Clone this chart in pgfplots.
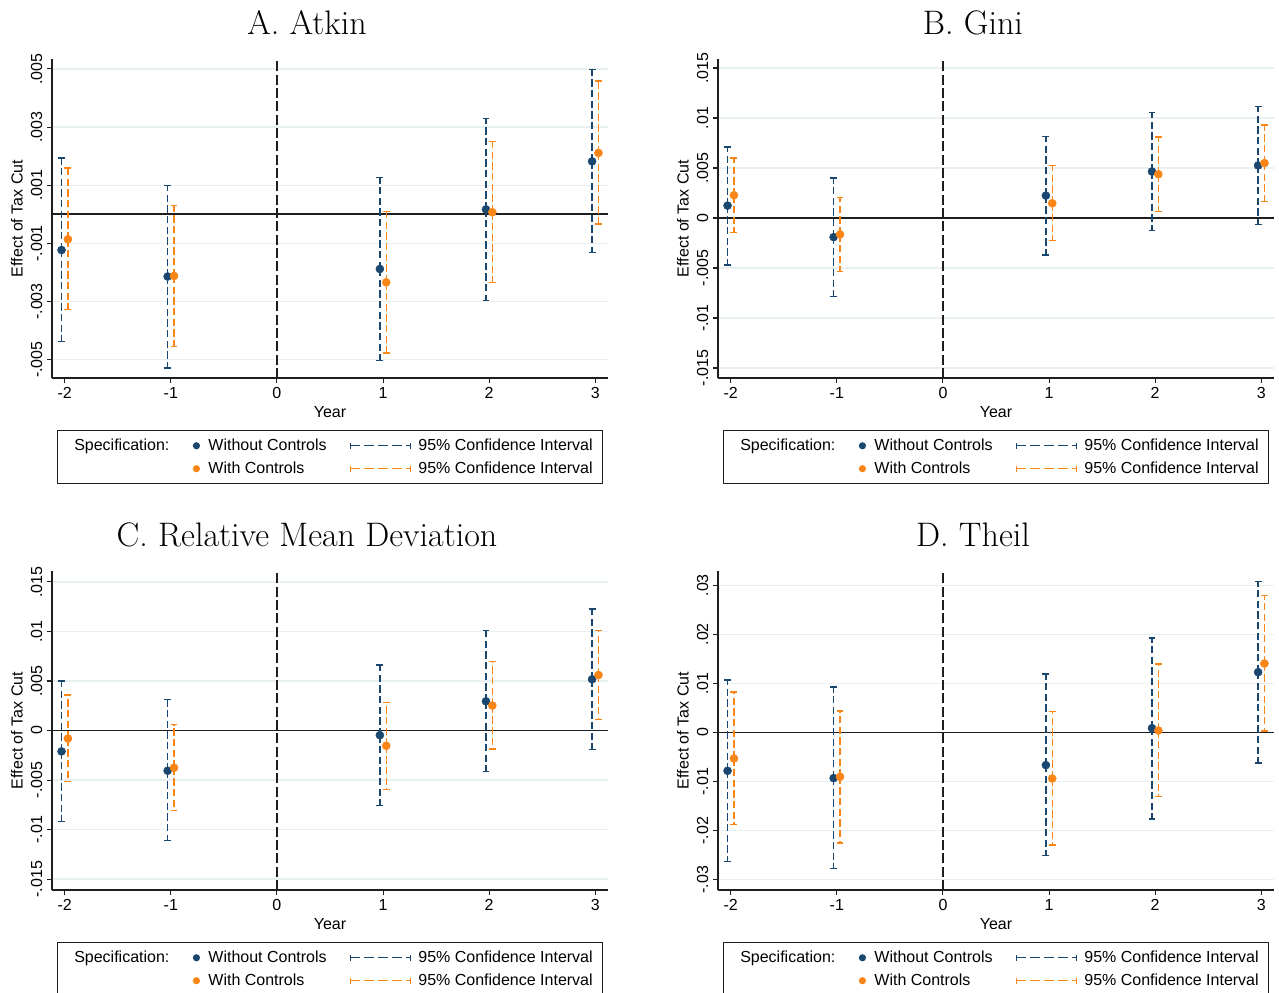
\documentclass[border=0pt]{standalone}
\usepackage{pgfplots}
\pgfplotsset{compat=1.18}
\usepackage{pgfplotstable}
\usepackage{fontspec}
\newfontfamily\arial{Liberation Sans}
\definecolor{stNavy}{HTML}{1A476F}
\definecolor{stOrange}{HTML}{FA8517}
\definecolor{stGrid}{HTML}{E8F0F2}
\definecolor{stAxis}{HTML}{1E1E1E}

% x is the year shifted by -0.03 (without controls) or +0.03 (with controls)
\pgfplotstableread{
x y lo hi
-2.03 -0.00123 -0.00437 0.00193
-1.03 -0.00214 -0.00529 0.00100
0.97 -0.00188 -0.00502 0.00127
1.97 0.00017 -0.00297 0.00330
2.97 0.00182 -0.00131 0.00498
}\atkinNo
\pgfplotstableread{
x y lo hi
-1.97 -0.00086 -0.00328 0.00159
-0.97 -0.00212 -0.00454 0.00031
1.03 -0.00234 -0.00477 0.00010
2.03 0.00007 -0.00235 0.00251
3.03 0.00211 -0.00034 0.00459
}\atkinYes
\pgfplotstableread{
x y lo hi
-2.03 0.00124 -0.00469 0.00710
-1.03 -0.00191 -0.00783 0.00402
0.97 0.00224 -0.00368 0.00813
1.97 0.00465 -0.00127 0.01058
2.97 0.00525 -0.00064 0.01118
}\giniNo
\pgfplotstableread{
x y lo hi
-1.97 0.00228 -0.00144 0.00602
-0.97 -0.00164 -0.00535 0.00207
1.03 0.00147 -0.00224 0.00525
2.03 0.00438 0.00064 0.00810
3.03 0.00549 0.00167 0.00930
}\giniYes
\pgfplotstableread{
x y lo hi
-2.03 -0.00211 -0.00919 0.00500
-1.03 -0.00406 -0.01110 0.00312
0.97 -0.00047 -0.00758 0.00661
1.97 0.00295 -0.00413 0.01007
2.97 0.00517 -0.00191 0.01225
}\rmdNo
\pgfplotstableread{
x y lo hi
-1.97 -0.00081 -0.00517 0.00359
-0.97 -0.00376 -0.00809 0.00060
1.03 -0.00154 -0.00594 0.00285
2.03 0.00252 -0.00188 0.00695
3.03 0.00560 0.00111 0.01007
}\rmdYes
\pgfplotstableread{
x y lo hi
-2.03 -0.00781 -0.02630 0.01066
-1.03 -0.00930 -0.02770 0.00930
0.97 -0.00665 -0.02510 0.01188
1.97 0.00088 -0.01765 0.01928
2.97 0.01229 -0.00618 0.03075
}\theilNo
\pgfplotstableread{
x y lo hi
-1.97 -0.00530 -0.01880 0.00821
-0.97 -0.00903 -0.02250 0.00441
1.03 -0.00937 -0.02290 0.00428
2.03 0.00041 -0.01310 0.01392
3.03 0.01405 0.00034 0.02790
}\theilYes

\newcommand{\ciimg}[1]{%
  \draw[#1, solid, line width=1.05pt, dash pattern=on 7pt off 3.5pt] (0pt,0pt) -- (45pt,0pt);
  \draw[#1, solid, line width=1.05pt] (0pt,-2.3pt) -- (0pt,2.3pt) (45pt,-2.3pt) -- (45pt,2.3pt);
  \path[draw=none, fill=none] (0pt,0pt) -- (51pt,0pt);}
\newcommand{\dotimg}[1]{%
  \fill[#1, draw=none] (3pt,0pt) circle (2.7pt);
  \path[draw=none, fill=none] (0pt,0pt) -- (12pt,0pt);}
\newcommand{\speclegend}{%
  \addlegendimage{legend image code/.code={\path[draw=none] (0pt,0pt) -- (5.25pt,0pt);}}
  \addlegendentry{Specification:}
  \addlegendimage{legend image code/.code={\dotimg{stNavy}}}
  \addlegendentry{Without Controls}
  \addlegendimage{legend image code/.code={\ciimg{stNavy}}}
  \addlegendentry{95\% Confidence Interval}
  \addlegendimage{legend image code/.code={\path[draw=none] (0pt,0pt) -- (5.25pt,0pt);}}
  \addlegendentry{}
  \addlegendimage{legend image code/.code={\dotimg{stOrange}}}
  \addlegendentry{With Controls}
  \addlegendimage{legend image code/.code={\ciimg{stOrange}}}
  \addlegendentry{95\% Confidence Interval}}

\pgfplotsset{
  panel/.style={
    scale only axis, width=417pt, height=239.25pt,
    xmin=-2.12, xmax=3.12,
    axis lines*=left,
    axis line style={stAxis, line width=0.8pt},
    tick align=outside, major tick length=3.75pt,
    tick style={stAxis, line width=0.8pt},
    xtick={-2,-1,0,1,2,3}, xticklabels={-2,-1,0,1,2,3},
    ymajorgrids, grid style={stGrid, line width=1pt},
    scaled y ticks=false,
    yticklabel style={rotate=90, anchor=south},
    font=\arial\fontsize{12}{14.4}\selectfont,
    xlabel={Year}, ylabel={Effect of Tax Cut},
    xlabel style={at={(axis description cs:0.5,-0.107)}, anchor=center},
    ylabel style={at={(axis description cs:-0.063,0.5)}, anchor=center},
    title style={at={(axis description cs:0.4586,1.053)}, anchor=base, yshift=0pt,
      font=\rmfamily\fontsize{25.5}{30}\selectfont},
    legend columns=3,
    legend style={at={(axis description cs:0.5,-0.163)}, anchor=north,
      draw=stAxis, line width=0.75pt, inner xsep=7.5pt, inner ysep=5.9pt,
      font=\arial\fontsize{12}{14.4}\selectfont,
      nodes={inner sep=0pt, text height=8.9pt, text depth=2.2pt, anchor=west},
      column sep=0pt, row sep=6.1pt,
      /tikz/column 2/.style={column sep=17.25pt},
      /tikz/column 4/.style={column sep=17.25pt}},
  },
  ser/.style={only marks, mark=*, mark size=3pt, forget plot,
    error bars/y dir=both, error bars/y explicit,
    error bars/error bar style={line width=1.05pt, dash pattern=on 5.5pt off 2.5pt},
    error bars/error mark options={solid, line width=1.05pt, mark size=2.6pt, rotate=90}},
}
\newcommand{\refl}{%
  \draw[stAxis, line width=1.2pt] (axis cs:-2.12,0) -- (axis cs:3.12,0);
  \draw[stAxis, line width=0.95pt, dash pattern=on 7.5pt off 2.5pt]
    ({axis cs:0,0} |- {rel axis cs:0,0}) -- ({axis cs:0,0} |- {rel axis cs:0,1});}
\newcommand{\series}[2]{%
  \addplot[ser, stNavy] table[x=x, y=y, y error plus expr=\thisrow{hi}-\thisrow{y},
    y error minus expr=\thisrow{y}-\thisrow{lo}] {#1};
  \addplot[ser, stOrange] table[x=x, y=y, y error plus expr=\thisrow{hi}-\thisrow{y},
    y error minus expr=\thisrow{y}-\thisrow{lo}] {#2};}

\begin{document}
\begin{tikzpicture}
\useasboundingbox (0pt,0pt) rectangle (959.25pt,-744.75pt);

\begin{axis}[panel, at={(39pt,-283.5pt)}, anchor=south west,
  title={A. Atkin}, ymin=-0.00563, ymax=0.00534,
  ytick={-0.005,-0.003,-0.001,0.001,0.003,0.005},
  yticklabels={-.005,-.003,-.001,.001,.003,.005}]
\refl
\series{\atkinNo}{\atkinYes}
\speclegend
\end{axis}

\begin{axis}[panel, at={(538.5pt,-283.5pt)}, anchor=south west,
  title={B. Gini}, ymin=-0.016, ymax=0.0159,
  ytick={-0.015,-0.01,-0.005,0,0.005,0.01,0.015},
  yticklabels={-.015,-.01,-.005,0,.005,.01,.015}]
\refl
\series{\giniNo}{\giniYes}
\speclegend
\end{axis}

\begin{axis}[panel, at={(39pt,-667.5pt)}, anchor=south west,
  title={C. Relative Mean Deviation}, ymin=-0.0161, ymax=0.0161,
  ytick={-0.015,-0.01,-0.005,0,0.005,0.01,0.015},
  yticklabels={-.015,-.01,-.005,0,.005,.01,.015}]
\refl
\series{\rmdNo}{\rmdYes}
\speclegend
\end{axis}

\begin{axis}[panel, at={(538.5pt,-667.5pt)}, anchor=south west,
  title={D. Theil}, ymin=-0.0321, ymax=0.0329,
  ytick={-0.03,-0.02,-0.01,0,0.01,0.02,0.03},
  yticklabels={-.03,-.02,-.01,0,.01,.02,.03}]
\refl
\series{\theilNo}{\theilYes}
\speclegend
\end{axis}
\end{tikzpicture}
\end{document}
